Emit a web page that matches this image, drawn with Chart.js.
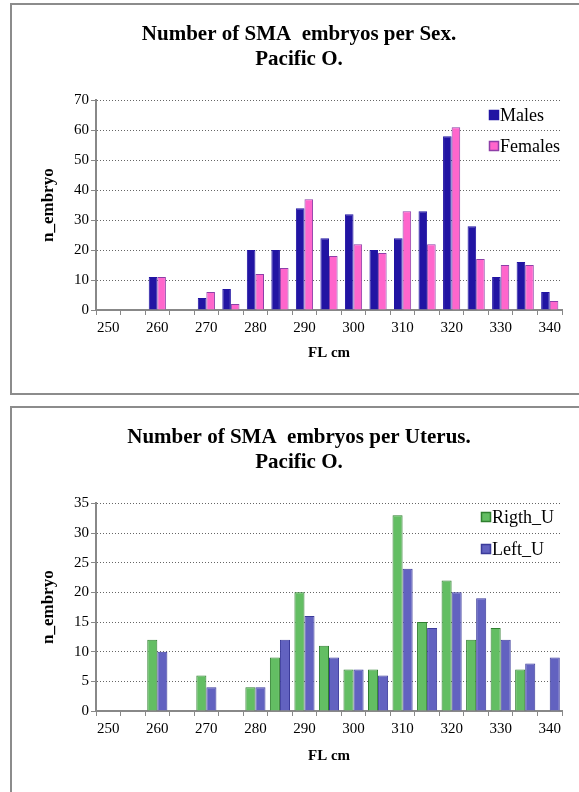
<html lang="en">
<head>
    <meta charset="UTF-8">
    <title>SMA embryos Pacific O.</title>
    <script src="https://cdn.jsdelivr.net/npm/chart.js"></script>
    <style>
        body { margin: 0; overflow: hidden; background: #fff; width: 579px; height: 792px; position: relative; }
        .box { position: absolute; left: 10px; width: 600px; border: 2px solid #8c8c8c; box-sizing: border-box; }
        canvas { position: absolute; left: 0; }
    </style>
</head>
<body>
    <div class="box" style="top:3px; height:392px;"></div>
    <div class="box" style="top:406px; height:500px;"></div>
    <canvas id="sexChart" width="579" height="400" style="top:0px"></canvas>
    <canvas id="uterusChart" width="579" height="392" style="top:400px"></canvas>

    <script>
        // FL cm classes (every 5 cm)
        const flLabels = ['250', '255', '260', '265', '270', '275', '280', '285', '290', '295',
                          '300', '305', '310', '315', '320', '325', '330', '335', '340'];

        // embryos per sex
        const males   = [null, null, 11, null, 4, 7, 20, 20, 34, 24, 32, 20, 24, 33, 58, 28, 11, 16, 6];
        const females = [null, null, 11, null, 6, 2, 12, 14, 37, 18, 22, 19, 33, 22, 61, 17, 15, 15, 3];

        // embryos per uterus
        const rightU = [null, null, 12, null, 6, null, 4, 9, 20, 11, 7, 7, 33, 15, 22, 12, 14, 7, null];
        const leftU  = [null, null, 10, null, 4, null, 4, 12, 16, 9, 7, 6, 24, 14, 20, 19, 12, 8, 9];

        const serif = "'Liberation Serif', 'Times New Roman', serif";

        // legend drawn inside the plot area, top right
        const innerLegend = {
            id: 'innerLegend',
            afterDraw(chart, args, opts) {
                const ctx = chart.ctx;
                ctx.save();
                ctx.font = '18px ' + serif;
                ctx.textBaseline = 'middle';
                chart.data.datasets.forEach(function (ds, i) {
                    var y = opts.y + i * opts.gap;
                    ctx.fillStyle = ds.backgroundColor;
                    ctx.fillRect(opts.x, y - 5, 10, 10);
                    ctx.strokeStyle = ds.borderColor;
                    ctx.lineWidth = 1.5;
                    ctx.strokeRect(opts.x + 0.5, y - 4.5, 9, 9);
                    ctx.fillStyle = '#000';
                    ctx.fillText(ds.label, opts.x + 11, y + 1);
                });
                ctx.restore();
            }
        };

        function makeChart(id, title, sets, yMax, yStep, catPct, geo) {
            var ctx = document.getElementById(id).getContext('2d');
            return new Chart(ctx, {
                type: 'bar',
                data: { labels: flLabels, datasets: sets },
                options: {
                    responsive: false,
                    animation: false,
                    devicePixelRatio: 1,
                    // title is centred on the box, so left pad is bigger than right
                    layout: { padding: { left: 19, right: 0, top: 0, bottom: 0 } },
                    datasets: { bar: { categoryPercentage: catPct, barPercentage: 1.0 } },
                    plugins: {
                        legend: { display: false },
                        tooltip: { enabled: false },
                        title: {
                            display: true,
                            text: title,
                            color: '#000',
                            font: { family: serif, size: 21, weight: 'bold', lineHeight: 1.2 },
                            padding: { top: geo.titleTop, bottom: geo.titleBottom }
                        },
                        innerLegend: { x: geo.legX, y: geo.legY, gap: geo.legGap }
                    },
                    scales: {
                        x: {
                            type: 'category',
                            offset: true,
                            afterFit: function (s) { s.height = geo.xHeight; },
                            grid: { offset: true, drawOnChartArea: false, drawTicks: true, tickLength: 5, color: '#888', lineWidth: 1 },
                            border: { color: '#888', width: 2 },
                            ticks: {
                                autoSkip: false, maxRotation: 0, minRotation: 0, padding: 4,
                                color: '#000', font: { family: serif, size: 15 },
                                callback: function (v, i) { return i % 2 === 0 ? flLabels[i] : ''; }
                            },
                            title: {
                                display: true, text: 'FL cm', color: '#000',
                                font: { family: serif, size: 15, weight: 'bold', lineHeight: 1.2 },
                                padding: { top: 0, bottom: geo.xTitlePad }
                            }
                        },
                        y: {
                            min: 0, max: yMax,
                            afterFit: function (s) { s.width = 77; },
                            grid: { color: '#666', lineWidth: 1, drawTicks: true, tickLength: 5, tickColor: '#888', tickBorderDash: [] },
                            border: { color: '#888', width: 2, dash: [1, 2] },
                            ticks: { stepSize: yStep, padding: 2, color: '#000', font: { family: serif, size: 15 } },
                            title: {
                                display: true, text: 'n_embryo', color: '#000',
                                font: { family: serif, size: 17, weight: 'bold', lineHeight: 1.2 },
                                padding: { top: 19, bottom: 0 }
                            }
                        },
                        // empty spacer on the right, keeps the plot edge at x=562
                        spacer: {
                            type: 'linear', position: 'right',
                            afterFit: function (s) { s.width = 17; },
                            grid: { display: false, drawTicks: false },
                            border: { display: false },
                            ticks: { display: false }
                        }
                    }
                },
                plugins: [innerLegend]
            });
        }

        makeChart('sexChart', ['Number of SMA  embryos per Sex.', 'Pacific O.'], [
            { label: 'Males', data: males, backgroundColor: '#2114A3', borderColor: '#2114A3', borderWidth: 1 },
            { label: 'Females', data: females, backgroundColor: '#FF66CC', borderColor: '#8E3FA8', borderWidth: 1 }
        ], 70, 10, 0.7, { titleTop: 22, titleBottom: 28, xHeight: 90, xTitlePad: 38, legX: 489, legY: 115, legGap: 31 });

        makeChart('uterusChart', ['Number of SMA  embryos per Uterus.', 'Pacific O.'], [
            { label: 'Rigth_U', data: rightU, backgroundColor: '#63BE63', borderColor: '#2F7F2F', borderWidth: 1 },
            { label: 'Left_U', data: leftU, backgroundColor: '#6262C0', borderColor: '#3B3B9A', borderWidth: 1 }
        ], 35, 5, 0.82, { titleTop: 25, titleBottom: 28, xHeight: 81, xTitlePad: 27, legX: 481, legY: 117, legGap: 32 });
    </script>
</body>
</html>
